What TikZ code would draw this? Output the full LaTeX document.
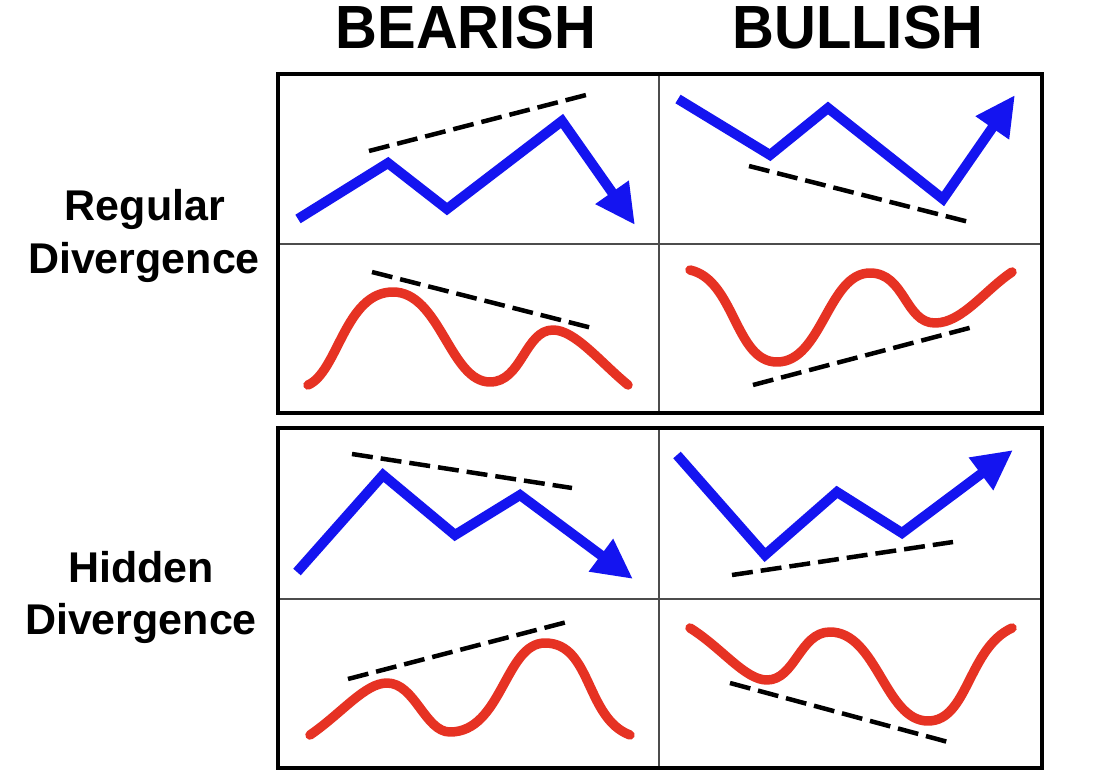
\documentclass[tikz,border=0pt]{standalone}
\usepackage{fontspec}
\setmainfont{Liberation Sans}
\usetikzlibrary{arrows.meta}
\definecolor{bluel}{RGB}{20,20,240}
\definecolor{redl}{RGB}{230,50,35}
\begin{document}
\begin{tikzpicture}[x=1pt,y=-1pt,
  head/.style={font=\fontsize{61}{61}\selectfont\bfseries, xscale=0.95, inner sep=0pt},
  lbl/.style={font=\fontsize{43}{43}\selectfont\bfseries, inner sep=0pt},
  frame/.style={line width=3.2pt, draw=black},
  divider/.style={line width=1.5pt, draw=black!70},
  price/.style={line width=10pt, draw=bluel, line join=miter, -{Triangle[length=40pt,width=38pt]}},
  osc/.style={line width=9.5pt, draw=redl, line cap=round, line join=round},
  trend/.style={line width=4.5pt, draw=black, dash pattern=on 21pt off 8pt}
]
\useasboundingbox (0,0) rectangle (1100,778);
\fill[white] (0,0) rectangle (1100,778);

% headings
\node[head, anchor=base] (bear) at (466,49) {BEARISH};
\node[head, anchor=base] (bull) at (858,49) {BULLISH};

% row labels
\node[lbl, anchor=base] (reg1) at (145,221) {Regular};
\node[lbl, anchor=base] (reg2) at (144,273) {Divergence};
\node[lbl, anchor=base] (hid1) at (141,582) {Hidden};
\node[lbl, anchor=base] (hid2) at (141,634) {Divergence};

% frames
\draw[divider] (659,74) -- (659,413);
\draw[divider] (278,244) -- (1042,244);
\draw[frame] (278,74) rectangle (1042,413);
\draw[divider] (659,428) -- (659,768);
\draw[divider] (278,599) -- (1042,599);
\draw[frame] (278,428) rectangle (1042,768);

% Regular bearish
\draw[trend] (369,151) -- (590,94);
\draw[price] (298,219) -- (388,163) -- (447,209) -- (562,121) -- (635,225);
\draw[trend] (372,272) -- (592,328);
\draw[osc] (308,385) .. controls (338,372) and (345,292) .. (393,292)
  .. controls (440,292) and (450,382) .. (490,382)
  .. controls (522,382) and (525,330) .. (553,330)
  .. controls (575,330) and (600,362) .. (628,385);

% Regular bullish
\draw[trend] (749,166) -- (969,222);
\draw[price] (678,99) -- (770,155) -- (828,108) -- (943,199) -- (1015,95);
\draw[trend] (753,385) -- (973,327);
\draw[osc] (690,270) .. controls (735,280) and (735,362) .. (777,362)
  .. controls (822,362) and (828,273) .. (870,273)
  .. controls (905,273) and (905,323) .. (935,323)
  .. controls (962,323) and (985,290) .. (1012,272);

% Hidden bearish
\draw[trend] (352,454) -- (572,488);
\draw[price] (297,572) -- (383,475) -- (455,535) -- (520,495) -- (633,579);
\draw[trend] (348,679) -- (567,622);
\draw[osc] (310,735) .. controls (342,713) and (365,683) .. (387,683)
  .. controls (415,683) and (425,732) .. (450,732)
  .. controls (502,732) and (505,643) .. (545,643)
  .. controls (592,643) and (585,718) .. (630,735);

% Hidden bullish
\draw[trend] (732,575) -- (953,542);
\draw[price] (677,455) -- (765,555) -- (837,492) -- (902,533) -- (1013,450);
\draw[trend] (730,683) -- (948,742);
\draw[osc] (690,628) .. controls (722,648) and (745,680) .. (767,680)
  .. controls (795,680) and (800,632) .. (830,632)
  .. controls (877,632) and (885,721) .. (928,721)
  .. controls (968,721) and (968,648) .. (1012,628);
\end{tikzpicture}
\end{document}
